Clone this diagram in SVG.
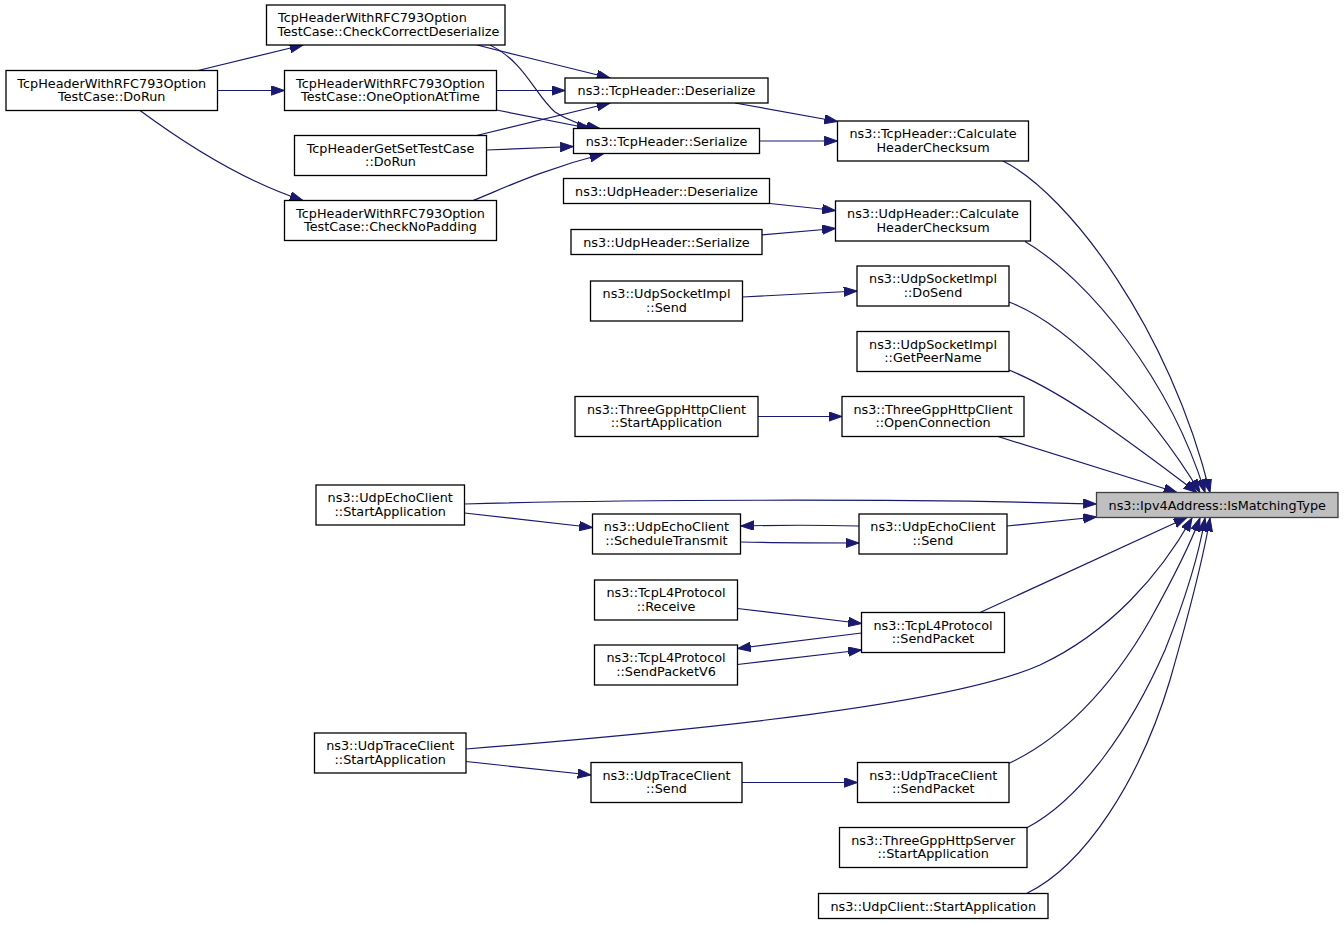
<svg xmlns="http://www.w3.org/2000/svg" width="1344" height="925" viewBox="0 0 1344 925">
<style>
.n rect{fill:#fff;stroke:#000;stroke-width:1.3}
.n text{font-family:"DejaVu Sans",sans-serif;font-size:12.8px;text-anchor:middle;fill:#000}
#n2 text{text-anchor:start}
#n0 rect{fill:#bfbfbf;stroke:#404040}
#edges path{fill:none;stroke:#191970;stroke-width:1.2;marker-end:url(#ah)}
</style>
<defs>
<marker id="ah" markerUnits="userSpaceOnUse" markerWidth="14" markerHeight="10" refX="13.3" refY="4.7" orient="auto">
<path d="M0,0 L13.3,4.7 L0,9.4 Z" fill="#191970" stroke="#191970" stroke-width="1"/>
</marker>
</defs>
<rect width="1344" height="925" fill="#fff"/>
<g id="edges">
<path d="M198,70.5 L303,45"/>
<path d="M217.5,90.5 L284.5,90.5"/>
<path d="M140,110.5 C180,140 240,180 303,200.5"/>
<path d="M477,45 C520,56 570,68 610,78"/>
<path d="M490,45 C525,62 535,95 555,112 C570,122 585,126 600,128.5"/>
<path d="M496.5,90.5 L565,90.5"/>
<path d="M496.5,110 L590,128.5"/>
<path d="M476.5,135.5 L610,103"/>
<path d="M486.5,150 L573.5,146.5"/>
<path d="M473,200.5 C500,190 540,170 603,154"/>
<path d="M735,103 L837.5,121.5"/>
<path d="M759.5,141 L837.5,141"/>
<path d="M770,203.5 L835.5,210.5"/>
<path d="M761.5,235 L835.5,228.5"/>
<path d="M742.5,297 L857,291"/>
<path d="M758,416.5 L842,416.5"/>
<path d="M464.5,504 C600,500 900,498 1096.5,504"/>
<path d="M464.5,513 L592.5,527.5"/>
<path d="M859,526 C820,525 780,525 740.5,526"/>
<path d="M740.5,542 C780,543 820,543 859,543"/>
<path d="M1007,526 L1096.5,517"/>
<path d="M737.5,608.5 L861.5,623.5"/>
<path d="M861.5,633 L737.5,648.5"/>
<path d="M737.5,664.5 L861.5,650"/>
<path d="M980,612.5 L1187,517.5"/>
<path d="M466,749 C700,730 950,705 1040,665 C1110,632 1160,575 1192,518"/>
<path d="M466,761.5 L591,775"/>
<path d="M742,782.5 L857.5,782.5"/>
<path d="M1008.5,763.5 C1060,740 1110,690 1150,620 C1175,575 1190,545 1200,518"/>
<path d="M1026.5,828 C1080,800 1130,730 1165,650 C1185,600 1198,560 1205,518"/>
<path d="M1026.5,893.5 C1085,865 1140,780 1170,680 C1190,610 1203,560 1210,518"/>
<path d="M1003,161 C1070,195 1170,330 1210,492.5"/>
<path d="M1025,241.5 C1090,280 1170,380 1205,492.5"/>
<path d="M1009,302 C1070,325 1150,410 1200,492.5"/>
<path d="M1009,370 C1070,395 1140,450 1197,492.5"/>
<path d="M998,436.5 L1177,492.5"/>
</g>
<g id="n0" class="n"><rect x="1096.5" y="492.5" width="241.5" height="25"/><text x="1217.25" y="509.5">ns3::Ipv4Address::IsMatchingType</text></g>
<g id="n1" class="n"><rect x="6" y="70.5" width="211.5" height="40"/><text x="111.75" y="87.5">TcpHeaderWithRFC793Option</text><text x="111.75" y="101">TestCase::DoRun</text></g>
<g id="n2" class="n"><rect x="266.5" y="5" width="238.5" height="40"/><text x="278" y="22">TcpHeaderWithRFC793Option</text><text x="277.5" y="35.5">TestCase::CheckCorrectDeserialize</text></g>
<g id="n3" class="n"><rect x="284.5" y="70.5" width="212" height="40"/><text x="390.5" y="87.5">TcpHeaderWithRFC793Option</text><text x="390.5" y="101">TestCase::OneOptionAtTime</text></g>
<g id="n4" class="n"><rect x="294.5" y="135.5" width="192" height="40"/><text x="390.5" y="152.5">TcpHeaderGetSetTestCase</text><text x="390.5" y="166">::DoRun</text></g>
<g id="n5" class="n"><rect x="284.5" y="200.5" width="212" height="40"/><text x="390.5" y="217.5">TcpHeaderWithRFC793Option</text><text x="390.5" y="231">TestCase::CheckNoPadding</text></g>
<g id="n6" class="n"><rect x="565" y="78" width="203" height="25"/><text x="666.5" y="95">ns3::TcpHeader::Deserialize</text></g>
<g id="n7" class="n"><rect x="573.5" y="128.5" width="186" height="25"/><text x="666.5" y="145.5">ns3::TcpHeader::Serialize</text></g>
<g id="n8" class="n"><rect x="837.5" y="121" width="191" height="40"/><text x="933" y="138">ns3::TcpHeader::Calculate</text><text x="933" y="151.5">HeaderChecksum</text></g>
<g id="n9" class="n"><rect x="563.5" y="178.5" width="206" height="25"/><text x="666.5" y="195.5">ns3::UdpHeader::Deserialize</text></g>
<g id="n10" class="n"><rect x="571" y="229.5" width="191" height="25"/><text x="666.5" y="246.5">ns3::UdpHeader::Serialize</text></g>
<g id="n11" class="n"><rect x="835.5" y="201" width="195" height="40"/><text x="933" y="218">ns3::UdpHeader::Calculate</text><text x="933" y="231.5">HeaderChecksum</text></g>
<g id="n12" class="n"><rect x="590.5" y="281" width="152" height="40"/><text x="666.5" y="298">ns3::UdpSocketImpl</text><text x="666.5" y="311.5">::Send</text></g>
<g id="n13" class="n"><rect x="857" y="266" width="152" height="40"/><text x="933" y="283">ns3::UdpSocketImpl</text><text x="933" y="296.5">::DoSend</text></g>
<g id="n14" class="n"><rect x="857" y="331.5" width="152" height="40"/><text x="933" y="348.5">ns3::UdpSocketImpl</text><text x="933" y="362">::GetPeerName</text></g>
<g id="n15" class="n"><rect x="575" y="396.5" width="183" height="40"/><text x="666.5" y="413.5">ns3::ThreeGppHttpClient</text><text x="666.5" y="427">::StartApplication</text></g>
<g id="n16" class="n"><rect x="842" y="396.5" width="182" height="40"/><text x="933" y="413.5">ns3::ThreeGppHttpClient</text><text x="933" y="427">::OpenConnection</text></g>
<g id="n17" class="n"><rect x="316" y="485" width="148.5" height="40"/><text x="390.25" y="502">ns3::UdpEchoClient</text><text x="390.25" y="515.5">::StartApplication</text></g>
<g id="n18" class="n"><rect x="592.5" y="514" width="148" height="40"/><text x="666.5" y="531">ns3::UdpEchoClient</text><text x="666.5" y="544.5">::ScheduleTransmit</text></g>
<g id="n19" class="n"><rect x="859" y="514" width="148" height="40"/><text x="933" y="531">ns3::UdpEchoClient</text><text x="933" y="544.5">::Send</text></g>
<g id="n20" class="n"><rect x="594.5" y="580" width="143" height="40"/><text x="666" y="597">ns3::TcpL4Protocol</text><text x="666" y="610.5">::Receive</text></g>
<g id="n21" class="n"><rect x="861.5" y="612.5" width="143" height="40"/><text x="933" y="629.5">ns3::TcpL4Protocol</text><text x="933" y="643">::SendPacket</text></g>
<g id="n22" class="n"><rect x="594.5" y="645" width="143" height="40"/><text x="666" y="662">ns3::TcpL4Protocol</text><text x="666" y="675.5">::SendPacketV6</text></g>
<g id="n23" class="n"><rect x="314.5" y="733" width="151.5" height="40"/><text x="390.25" y="750">ns3::UdpTraceClient</text><text x="390.25" y="763.5">::StartApplication</text></g>
<g id="n24" class="n"><rect x="591" y="762.5" width="151" height="40"/><text x="666.5" y="779.5">ns3::UdpTraceClient</text><text x="666.5" y="793">::Send</text></g>
<g id="n25" class="n"><rect x="857.5" y="762.5" width="151.5" height="40"/><text x="933.25" y="779.5">ns3::UdpTraceClient</text><text x="933.25" y="793">::SendPacket</text></g>
<g id="n26" class="n"><rect x="839.5" y="827.5" width="187.5" height="40"/><text x="933.25" y="844.5">ns3::ThreeGppHttpServer</text><text x="933.25" y="858">::StartApplication</text></g>
<g id="n27" class="n"><rect x="818.5" y="893.5" width="229.5" height="25"/><text x="933.25" y="910.5">ns3::UdpClient::StartApplication</text></g>
</svg>
